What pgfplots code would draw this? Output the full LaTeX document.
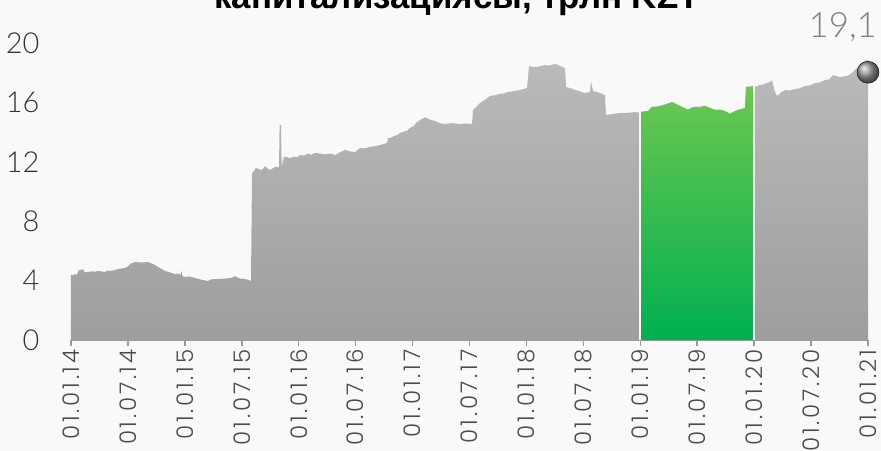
\documentclass[border=0pt]{standalone}
\usepackage{fontspec}
\usepackage{pgfplots}
\pgfplotsset{compat=1.18}
\setmainfont{Liberation Sans}
\IfFontExistsTF{Lato Light}{\newfontfamily\numfont{Lato Light}}{\newfontfamily\numfont{Lato}}
\IfFontExistsTF{Poppins Light}{\newfontfamily\xfont{Poppins Light}[LetterSpace=12]}{\newfontfamily\xfont{Poppins}[LetterSpace=12]}
\newfontfamily\titlefont{Liberation Sans}
\definecolor{bgcol}{HTML}{F9F9F9}
\definecolor{graybot}{HTML}{9E9E9E}
\definecolor{graytop}{HTML}{BABABA}
\definecolor{greenbot}{HTML}{00B050}
\definecolor{greentop}{HTML}{6CC850}
\definecolor{axiscol}{HTML}{9A9A9A}
\begin{document}
\begin{tikzpicture}
\useasboundingbox (-71bp,-111bp) rectangle (810bp,340bp);
\fill[bgcol] (-71bp,-111bp) rectangle (810bp,340bp);
\node[anchor=base, font=\titlefont\bfseries\fontsize{35}{35}\selectfont, text=black, inner sep=0pt] at (386bp,331bp) {капитализациясы, трлн KZT};
\begin{axis}[
  at={(0,0)}, anchor=south west,
  scale only axis, width=797bp, height=297bp,
  xmin=2014, xmax=2021, ymin=0, ymax=20,
  clip=false,
  axis x line*=bottom, axis y line*=left,
  y axis line style={draw=none},
  x axis line style={draw=axiscol, line width=1.5bp},
  xtick={2014,2014.5,2015,2015.5,2016,2016.5,2017,2017.5,2018,2018.5,2019,2019.5,2020,2020.5,2021},
  xticklabels={01.01.14,01.07.14,01.01.15,01.07.15,01.01.16,01.07.16,01.01.17,01.07.17,01.01.18,01.07.18,01.01.19,01.07.19,01.01.20,01.07.20,01.01.21},
  tick align=outside,
  major tick length=6bp,
  xtick style={draw=axiscol, line width=1.5bp},
  ytick={0,4,8,12,16,20},
  yticklabels={0,4,8,12,16,20},
  ytick style={draw=none},
  xticklabel style={rotate=90, anchor=east, font=\xfont\fontsize{23}{23}\selectfont, text=black!70, xshift=0bp},
  yticklabel style={anchor=east, font=\numfont\fontsize{29}{29}\selectfont, text=black!80, xshift=-22bp},
  /pgf/number format/assume math mode=true,
]
\addplot[draw=none, top color=graytop, bottom color=graybot] coordinates {
(2014.000,4.38)(2014.020,4.35)(2014.035,4.44)(2014.050,4.40)(2014.070,4.70)(2014.090,4.72)(2014.105,4.78)(2014.120,4.55)(2014.149,4.58)
(2014.180,4.62)(2014.211,4.60)(2014.240,4.66)(2014.260,4.62)(2014.300,4.58)(2014.320,4.68)(2014.343,4.65)(2014.380,4.70)(2014.413,4.78)(2014.474,4.85)
(2014.500,4.95)(2014.527,5.15)(2014.562,5.25)(2014.620,5.22)(2014.676,5.25)(2014.710,5.15)(2014.738,5.05)(2014.780,4.85)
(2014.826,4.65)(2014.850,4.60)(2014.870,4.55)(2014.913,4.44)(2014.940,4.48)(2014.966,4.38)(2014.970,4.65)(2014.980,4.30)
(2015.001,4.24)(2015.040,4.28)(2015.089,4.17)(2015.150,4.05)(2015.203,3.97)(2015.230,4.08)(2015.265,4.10)(2015.330,4.12)
(2015.396,4.17)(2015.420,4.22)(2015.440,4.30)(2015.480,4.15)(2015.528,4.10)(2015.560,4.05)(2015.581,3.97)
(2015.590,11.25)(2015.605,11.35)(2015.625,11.60)(2015.650,11.50)(2015.678,11.45)(2015.704,11.70)(2015.725,11.55)(2015.748,11.45)(2015.770,11.55)(2015.792,11.65)
(2015.827,11.65)(2015.832,14.48)(2015.845,14.48)(2015.850,11.70)(2015.871,12.35)(2015.900,12.30)(2015.923,12.25)
(2015.960,12.35)(2015.985,12.30)(2016.011,12.45)(2016.050,12.42)(2016.080,12.55)(2016.110,12.48)(2016.143,12.60)(2016.190,12.55)(2016.230,12.50)(2016.280,12.56)(2016.319,12.45)
(2016.360,12.62)(2016.407,12.80)(2016.450,12.70)(2016.494,12.65)(2016.538,12.93)(2016.580,12.90)(2016.620,13.00)(2016.670,13.05)(2016.714,13.13)(2016.775,13.27)
(2016.784,13.60)(2016.810,13.62)(2016.840,13.75)(2016.865,13.80)(2016.890,13.94)(2016.930,14.05)(2016.955,14.10)(2016.977,14.28)(2017.010,14.40)(2017.039,14.68)
(2017.070,14.82)(2017.109,15.00)(2017.150,14.85)(2017.197,14.75)(2017.240,14.60)(2017.285,14.55)(2017.350,14.60)(2017.417,14.55)
(2017.470,14.58)(2017.522,14.55)(2017.531,15.50)(2017.560,15.70)(2017.592,15.96)(2017.640,16.20)(2017.680,16.43)(2017.720,16.48)(2017.768,16.57)
(2017.800,16.60)(2017.840,16.70)(2017.900,16.77)(2017.950,16.85)(2018.005,16.97)(2018.023,18.45)(2018.060,18.38)(2018.100,18.40)(2018.163,18.52)
(2018.200,18.48)(2018.251,18.60)(2018.300,18.45)(2018.339,18.30)(2018.348,17.04)(2018.390,16.95)(2018.427,16.83)(2018.470,16.75)(2018.514,16.63)(2018.558,16.70)
(2018.567,17.44)(2018.585,16.77)(2018.640,16.65)(2018.690,16.50)(2018.699,15.15)(2018.760,15.22)(2018.822,15.29)(2018.890,15.30)(2018.954,15.35)
(2019.000,15.30)(2019.068,15.42)(2019.104,15.70)(2019.174,15.76)(2019.279,16.03)(2019.349,15.76)
(2019.419,15.50)(2019.481,15.70)(2019.568,15.76)(2019.656,15.50)(2019.744,15.42)(2019.788,15.22)
(2019.858,15.50)(2019.920,15.62)(2019.928,17.04)(2020.000,17.10)(2020.025,17.06)(2020.050,17.20)(2020.069,17.17)(2020.100,17.28)
(2020.139,17.37)(2020.157,17.50)(2020.170,17.10)(2020.183,16.70)(2020.201,16.43)(2020.240,16.70)(2020.271,16.83)(2020.310,16.80)(2020.359,16.90)
(2020.400,16.95)(2020.447,17.10)(2020.490,17.15)(2020.535,17.30)(2020.580,17.35)(2020.622,17.50)(2020.660,17.55)(2020.693,17.84)(2020.754,17.70)(2020.790,17.75)(2020.824,17.80)
(2020.860,18.00)(2020.886,18.20)(2020.920,18.40)(2020.947,18.65)(2020.975,18.80)(2021.000,18.85)
} \closedcycle;
\addplot[draw=none, top color=greentop, bottom color=greenbot] coordinates {
(2019.000,15.37)(2019.040,15.40)(2019.068,15.42)(2019.104,15.70)(2019.140,15.68)(2019.174,15.76)(2019.230,15.85)(2019.279,16.03)
(2019.310,15.90)(2019.349,15.76)(2019.390,15.62)(2019.419,15.50)(2019.450,15.65)(2019.481,15.70)(2019.520,15.62)(2019.568,15.76)(2019.620,15.60)(2019.656,15.50)
(2019.700,15.52)(2019.744,15.42)(2019.788,15.22)(2019.820,15.38)(2019.858,15.50)(2019.920,15.62)(2019.928,17.04)(2020.000,17.10)
} \closedcycle;
\addplot[draw=bgcol, line width=1.6bp] coordinates {(2019,0) (2019,15.5)};
\addplot[draw=bgcol, line width=1.6bp] coordinates {(2020,0) (2020,17.3)};
\addplot[only marks, mark=ball, mark size=11bp, ball color=black!40] coordinates {(2021,18.03)};
\node[anchor=east, font=\numfont\fontsize{35}{35}\selectfont, text=black!50, inner sep=0pt] at (axis cs:2021.08,21.05) {19,1};
\end{axis}
\end{tikzpicture}
\end{document}
